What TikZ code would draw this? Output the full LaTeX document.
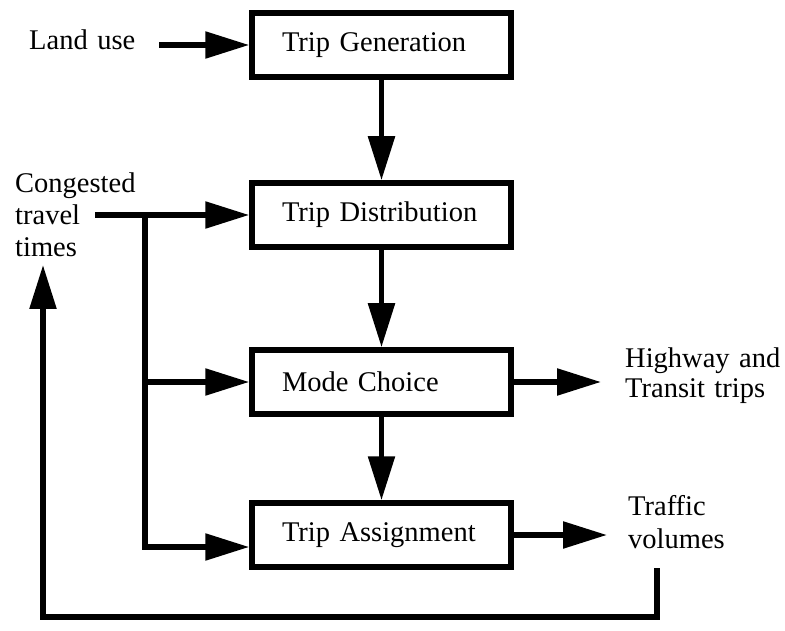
\documentclass[tikz,border=0pt]{standalone}
\usepackage{fontspec}
\setmainfont{Liberation Serif}
\usetikzlibrary{arrows.meta}

\tikzset{
  txt/.style={font=\fontsize{28.5}{32}\selectfont},
  stagebox/.style={txt, draw, line width=5.5pt, minimum width=259pt, minimum height=64pt,
    text width=199pt, inner xsep=30pt, inner ysep=0pt, align=left},
  label/.style={txt, inner ysep=0pt, align=left},
  arr/.style={line width=5.5pt, -{Triangle[length=44pt,width=26pt]}},
  wire/.style={line width=5.5pt}
}

\begin{document}
\begin{tikzpicture}[x=1pt, y=-1pt]
  \useasboundingbox (0,0) rectangle (785,631);

  % the four model stages
  \node[stagebox] (gen)    at (381.5,45)  {Trip Generation};
  \node[stagebox] (dist)   at (381.5,215) {Trip Distribution};
  \node[stagebox] (mode)   at (381.5,382) {Mode Choice};
  \node[stagebox] (assign) at (381.5,535) {Trip Assignment};

  % inputs and outputs
  \node[label, anchor=base west, inner xsep=20pt, text width=110pt] (land) at (9,50) {Land use};
  \node[label, anchor=base west, inner xsep=0pt, text width=130pt] (cong) at (15,193)
    {Congested\\travel\\times};
  \node[label, anchor=base west, inner xsep=24pt, text width=170pt,
        font=\fontsize{28.5}{30}\selectfont] (hw) at (601,367) {Highway and\\Transit trips};
  \node[label, anchor=base west, inner xsep=21pt, text width=150pt,
        font=\fontsize{28.5}{33}\selectfont] (traf) at (607,515) {Traffic\\volumes};

  % helper points
  \coordinate (c0) at (95,215);
  \coordinate (br) at (145,215);
  \coordinate (fb) at (657,568);
  \coordinate (fbtip) at (43,265);

  % main chain
  \draw[arr] (land.east |- gen.west) -- (gen.west);
  \draw[arr] (gen.south) -- (dist.north);
  \draw[arr] (dist.south) -- (mode.north);
  \draw[arr] (mode.south) -- (assign.north);

  % congested travel times feeding the later stages
  \draw[arr] (c0) -- (dist.west);
  \draw[arr] (br) |- (mode.west);
  \draw[arr] (br) |- ([yshift=-12pt]assign.west);

  % outputs
  \draw[arr] (mode.east) -- (mode.east -| hw.west);
  \draw[arr] (assign.east) -- (assign.east -| traf.west);

  % feedback loop
  \draw[arr] (fb) -- ++(0,49) -| (fbtip);
\end{tikzpicture}
\end{document}
